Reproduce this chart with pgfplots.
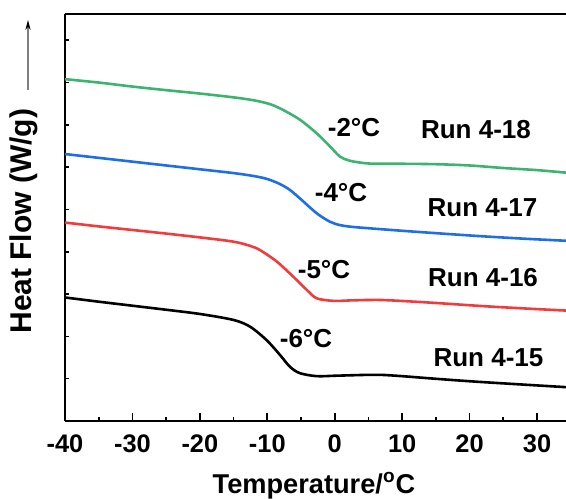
\documentclass[border=0pt]{standalone}
\usepackage{fontspec}
\setmainfont{Liberation Sans}
\usepackage{pgfplots}
\pgfplotsset{compat=1.18}
\usetikzlibrary{arrows.meta}
\definecolor{cgreen}{RGB}{60,179,113}
\definecolor{cblue}{RGB}{30,110,230}
\definecolor{cred}{RGB}{240,60,60}
\begin{document}
\begin{tikzpicture}
\useasboundingbox (-32.5pt,-38.5pt) rectangle (250.5pt,210.5pt);
\begin{axis}[
  at={(0pt,0pt)}, anchor=south west,
  scale only axis, width=250.5pt, height=203.5pt,
  xmin=-40, xmax=34.3, ymin=0, ymax=9.62,
  axis x line*=box, axis y line*=left,
  xtick={-40,-30,-20,-10,0,10,20,30},
  xticklabels={-40,-30,-20,-10,0,10,20,30},
  minor x tick num=1,
  ytick={-5}, yticklabels={}, minor ytick={1,2,3,4,5,6,7,8,9},
  tick align=inside, xtick pos=left, xticklabel pos=left,
  major tick length=3.85pt, minor tick length=2pt,
  axis line style={line width=0.9pt},
  every tick/.style={line width=0.8pt, black},
  xticklabel style={anchor=base, yshift=-15.5pt, font=\fontsize{12.7}{14}\selectfont\bfseries},
  xlabel={Temperature/\textsuperscript{o}C},
  xlabel style={at={(axis description cs:0.497,-0.177)}, anchor=base, font=\fontsize{13.6}{16}\selectfont\bfseries},
  ylabel={Heat Flow (W/g)},
  ylabel style={at={(axis description cs:-0.0818,0.491)}, anchor=center, rotate=0, font=\fontsize{15}{17}\selectfont\bfseries},
  clip=true,
]
\addplot[cgreen, line width=1.3pt, smooth] coordinates {
(-40,8.08) (-35,8.00) (-30,7.905) (-25,7.82) (-20,7.74) (-15,7.65) (-12,7.58) (-9.6,7.49) (-7.63,7.35) (-5.15,7.12) (-2.67,6.80) (-0.70,6.49) (0.78,6.25) (2.27,6.15) (4.74,6.09) (7,6.08) (10,6.08) (15,6.07) (20,6.04) (25,5.98) (30,5.93) (34.3,5.87)};
\addplot[cblue, line width=1.3pt, smooth] coordinates {
(-40,6.31) (-35,6.22) (-30,6.13) (-25,6.04) (-20,5.95) (-15,5.86) (-12,5.79) (-10,5.72) (-8.11,5.60) (-6.63,5.46) (-5.15,5.26) (-2.67,4.91) (-0.70,4.71) (0.78,4.63) (2.5,4.59) (4.74,4.56) (9.68,4.50) (15,4.44) (21.54,4.37) (28,4.31) (34.3,4.26)};
\addplot[cred, line width=1.3pt, smooth] coordinates {
(-40,4.69) (-35,4.60) (-30,4.515) (-25,4.43) (-20,4.34) (-15.04,4.24) (-12.56,4.14) (-11.08,4.04) (-8.60,3.77) (-6.14,3.41) (-4.15,3.10) (-2.67,2.90) (-0.21,2.84) (2.3,2.85) (4.74,2.86) (7,2.86) (9.68,2.84) (15,2.79) (21.54,2.72) (27,2.67) (34.3,2.61)};
\addplot[black, line width=1.3pt, smooth] coordinates {
(-40,2.92) (-35,2.82) (-30,2.725) (-25,2.63) (-20,2.53) (-15.04,2.39) (-12.56,2.23) (-10.09,1.91) (-8.11,1.56) (-6.63,1.28) (-5.15,1.13) (-2.67,1.06) (0,1.07) (2.27,1.08) (4.7,1.09) (7,1.09) (10,1.06) (14,1.01) (20,0.94) (27,0.87) (34.3,0.80)};
\node[font=\fontsize{13}{15}\selectfont\bfseries] at (axis cs:2.86,6.93) {-2°C};
\node[font=\fontsize{13}{15}\selectfont\bfseries] at (axis cs:0.93,5.39) {-4°C};
\node[font=\fontsize{13}{15}\selectfont\bfseries] at (axis cs:-1.59,3.59) {-5°C};
\node[font=\fontsize{13}{15}\selectfont\bfseries] at (axis cs:-4.26,1.94) {-6°C};
\node[font=\fontsize{13}{15}\selectfont\bfseries] at (axis cs:20.95,6.88) {Run 4-18};
\node[font=\fontsize{13}{15}\selectfont\bfseries] at (axis cs:21.92,5.05) {Run 4-17};
\node[font=\fontsize{13}{15}\selectfont\bfseries] at (axis cs:22.0,3.38) {Run 4-16};
\node[font=\fontsize{13}{15}\selectfont\bfseries] at (axis cs:22.8,1.50) {Run 4-15};
\end{axis}
\draw[gray, line width=0.7pt, -{Stealth[length=5pt,width=2.6pt,black]}] (-18.5pt,165.5pt) -- (-18.5pt,200.5pt);
\end{tikzpicture}
\end{document}
